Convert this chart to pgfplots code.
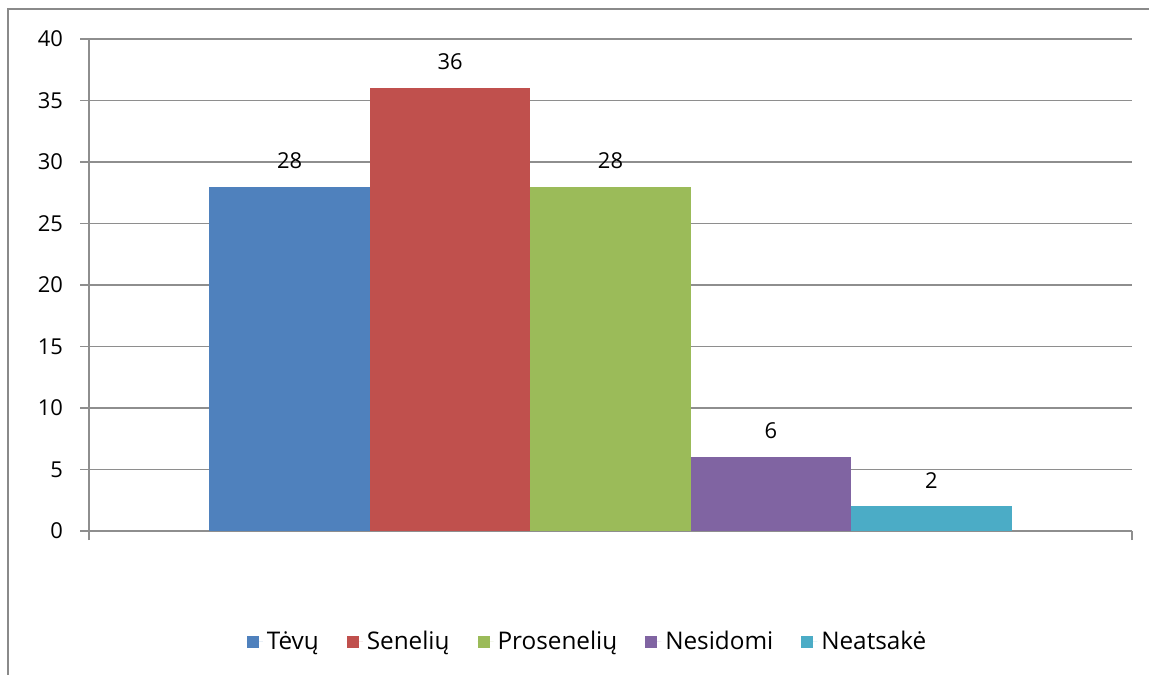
\documentclass[border=0pt]{standalone}
\usepackage{pgfplots}
\pgfplotsset{compat=1.18}
\usepackage{fontspec}
\setmainfont{Open Sans}
\definecolor{tevu}{HTML}{4F81BD}
\definecolor{seneliu}{HTML}{C0504D}
\definecolor{proseneliu}{HTML}{9BBB59}
\definecolor{nesidomi}{HTML}{8064A2}
\definecolor{neatsake}{HTML}{4BACC6}
\definecolor{gridgray}{HTML}{8E8E8E}
\definecolor{framegray}{HTML}{8A8A8A}
\newcommand{\chartfont}{\fontsize{11}{13}\selectfont}
\newcommand{\legendfont}{\fontsize{12.2}{14}\selectfont}
\begin{document}
\begin{tikzpicture}
\useasboundingbox (0,0) rectangle (574.5bp,337.5bp);
\begin{scope}
  \clip (0,0) rectangle (574.5bp,337.5bp);
  \draw[framegray, line width=1.3bp] (4bp,-20bp) rectangle (600bp,333bp);
\end{scope}
\begin{axis}[
    at={(44.5bp,72bp)}, anchor=south west,
    scale only axis, width=521.5bp, height=246bp,
    xmin=0, xmax=6.5, ymin=0, ymax=40,
    ytick={0,5,...,40}, xtick={0,6.5}, xticklabels={},
    axis x line*=bottom, axis y line*=left,
    ymajorgrids, grid style={gridgray, line width=0.7bp},
    axis line style={gridgray, line width=0.7bp},
    tick style={gridgray, line width=0.7bp},
    tick align=outside, major tick length=4.5bp,
    ticklabel style={font=\chartfont},
    yticklabel style={xshift=-5bp},
    /pgf/number format/assume math mode=true,
    clip=false,
    legend style={draw=none, at={(0.479,-0.2256)}, anchor=center,
        legend columns=-1, font=\legendfont,
        /tikz/every even column/.append style={column sep=12bp}},
    legend image code/.code={\fill[#1] (0bp,-3bp) rectangle (6bp,3bp);
        \path (0bp,0bp) -- (8bp,0bp);},
    every node near coord/.append style={font=\chartfont, text=black, yshift=5.5bp},
]
\addplot[ybar, bar shift=0pt, bar width=1, fill=tevu, draw=none, nodes near coords] coordinates {(1.25,28)};
\addlegendentry{Tėvų}
\addplot[ybar, bar shift=0pt, bar width=1, fill=seneliu, draw=none, nodes near coords] coordinates {(2.25,36)};
\addlegendentry{Senelių}
\addplot[ybar, bar shift=0pt, bar width=1, fill=proseneliu, draw=none, nodes near coords] coordinates {(3.25,28)};
\addlegendentry{Prosenelių}
\addplot[ybar, bar shift=0pt, bar width=1, fill=nesidomi, draw=none, nodes near coords] coordinates {(4.25,6)};
\addlegendentry{Nesidomi}
\addplot[ybar, bar shift=0pt, bar width=1, fill=neatsake, draw=none, nodes near coords] coordinates {(5.25,2)};
\addlegendentry{Neatsakė}
\end{axis}
\end{tikzpicture}
\end{document}
